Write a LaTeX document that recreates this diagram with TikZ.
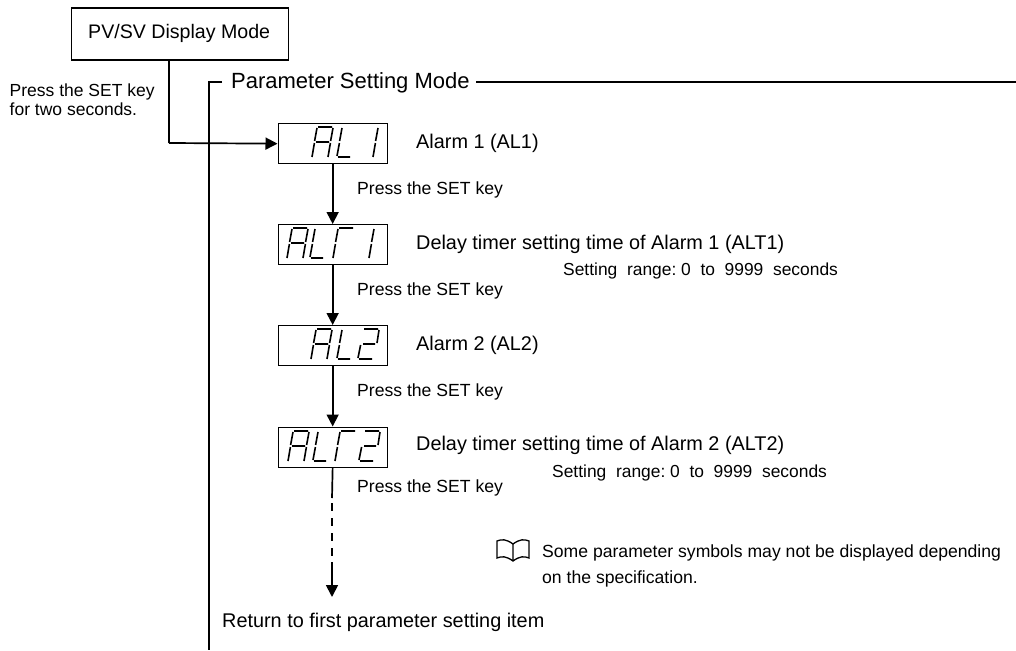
\documentclass[tikz,border=0pt]{standalone}
\usepackage{fontspec}
\setmainfont{Liberation Sans}
\usetikzlibrary{arrows.meta}
\tikzset{
 x=1pt,y=-1pt,
 box/.style={draw,line width=1.3pt,minimum width=109pt,minimum height=40pt,inner sep=0pt,anchor=north west},
 lbl/.style={anchor=base west,inner sep=0pt,font=\fontsize{19.85}{24}\selectfont},
 sm/.style={anchor=base west,inner sep=0pt,font=\fontsize{17.6}{20}\selectfont},
 rng/.style={anchor=base west,inner sep=0pt,font=\fontsize{17.4}{20}\selectfont},
 arr/.style={line width=1.7pt,-{Triangle[length=12pt,width=12pt]}},
 ln/.style={line width=1.7pt},
 seg/.style={line width=1.6pt}
}
\newcommand{\segA}[2]{\begin{scope}[shift={(#1,#2)}]\draw[seg](0,30)--(2.4,16) (2.6,14)--(5,1) (6,0)--(20,0) (21,1)--(18.6,14) (18.4,16)--(16,30) (4,15)--(17,15);\end{scope}}
\newcommand{\segL}[2]{\begin{scope}[shift={(#1,#2)}]\draw[seg](5,1)--(2.6,14) (2.4,16)--(0,29) (1,30)--(13,30);\end{scope}}
\newcommand{\segI}[2]{\begin{scope}[shift={(#1,#2)}]\draw[seg](5,1)--(2.6,14) (2.4,16)--(0,30);\end{scope}}
\newcommand{\segT}[2]{\begin{scope}[shift={(#1,#2)}]\draw[seg](6,0)--(20,0) (5,1)--(2.6,14) (2.4,16)--(0,30);\end{scope}}
\newcommand{\segZ}[2]{\begin{scope}[shift={(#1,#2)}]\draw[seg](6,0)--(20,0) (21,1)--(19,14) (5,15)--(17,15) (2.6,16)--(0,29) (1,30)--(14,30);\end{scope}}
\begin{document}
\begin{tikzpicture}
\useasboundingbox (0,0) rectangle (1016,650);
\node[draw,line width=1.3pt,anchor=north west,minimum width=216.5pt,minimum height=52pt,inner sep=0pt] (pv) at (71,7.5) {};
\node[anchor=base west,inner sep=0pt,font=\fontsize{19.6}{22}\selectfont] (pvt) at (88,39) {PV/SV Display Mode};
\node[anchor=base west,inner sep=0pt,font=\fontsize{17.5}{20}\selectfont] (pr) at (9.5,96) {Press the SET key};
\node[anchor=base west,inner sep=0pt,font=\fontsize{17.5}{20}\selectfont] (pr2) at (9.5,116) {for two seconds.};
% frame
\node[lbl,font=\fontsize{22}{26}\selectfont] (pm) at (231,89) {Parameter Setting Mode};
\coordinate (fa) at (222,82); \coordinate (fb) at (209,82); \coordinate (fc) at (209,650);
\coordinate (fd) at (476,82); \coordinate (fe) at (1016,82);
\draw[ln] (fa)--(fb)--(fc);
\draw[ln] (fd)--(fe);
% boxes
\node[box] (a1) at (277.5,123) {};
\node[box] (a2) at (277.5,224) {};
\node[box] (a3) at (277.5,325) {};
\node[box] (a4) at (277.5,426.5) {};
\segA{312}{127}\segL{337}{127}\segI{373}{127}
\segA{287}{228}\segL{310}{228}\segT{333}{228}\segI{369}{228}
\segA{311}{329}\segL{337}{329}\segZ{358}{329}
\segA{288}{431}\segL{313}{431}\segT{335}{431}\segZ{359}{431}
% arrows
\coordinate (j) at (169,143);
\draw[ln] (pv.south -| j)--(j);
\draw[arr] (j)--(a1.west);
\draw[arr] (a1.south)--(a2.north);
\draw[arr] (a2.south)--(a3.north);
\draw[arr] (a3.south)--(a4.north);
\coordinate (d1) at (332,498); \coordinate (d1b) at (332,503); \coordinate (d1c) at (332,557);
\coordinate (d2) at (332,562); \coordinate (d3) at (332,597);
\draw[ln] (a4.south)--(d1);
\draw[ln,dash pattern=on 8pt off 7pt] (d1b)--(d1c);
\draw[arr] (d2)--(d3);
% labels
\node[lbl] at (416,148) {Alarm 1 (AL1)};
\node[sm] at (357,194) {Press the SET key};
\node[lbl] at (416,249) {Delay timer setting time of Alarm 1 (ALT1)};
\node[rng] at (563,275) {Setting\ \ range:\ 0\ \ to\ \ 9999\ \ seconds};
\node[sm] at (357,295) {Press the SET key};
\node[lbl] at (416,350) {Alarm 2 (AL2)};
\node[sm] at (357,396) {Press the SET key};
\node[lbl] at (416,450) {Delay timer setting time of Alarm 2 (ALT2)};
\node[rng] at (552,477) {Setting\ \ range:\ 0\ \ to\ \ 9999\ \ seconds};
\node[sm] at (357,492) {Press the SET key};
\node[sm] at (542,557) {Some parameter symbols may not be displayed depending};
\node[sm] at (542,583) {on the specification.};
\node[lbl] at (222,627) {Return to first parameter setting item};
% book
\draw[line width=1.3pt] (513,544) .. controls (506,539) and (502,539) .. (497,541) -- (497,558) .. controls (502,556) and (506,556) .. (513,561) .. controls (520,556) and (524,556) .. (529,558) -- (529,541) .. controls (524,539) and (520,539) .. (513,544) -- (513,561);
\end{tikzpicture}
\end{document}
